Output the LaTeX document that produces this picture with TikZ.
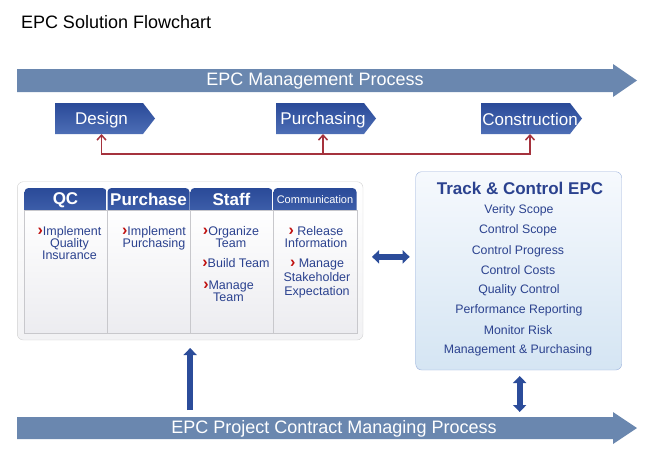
\documentclass[tikz,border=0pt]{standalone}
\usepackage{fontspec}
\setmainfont{Liberation Sans}
\usetikzlibrary{arrows.meta,calc}
\definecolor{barblue}{HTML}{6A87AF}
\definecolor{boxtop}{HTML}{2A4A98}
\definecolor{boxbot}{HTML}{4D6EB6}
\definecolor{tabbot}{HTML}{4061AC}
\definecolor{txtblue}{HTML}{2B428F}
\definecolor{bulred}{HTML}{C0100E}
\definecolor{linkred}{HTML}{A5323D}
\definecolor{arrblue}{HTML}{2B4C9A}
\definecolor{trkborder}{HTML}{9DB2DC}
\definecolor{trktop}{HTML}{F6F9FD}
\definecolor{trkbot}{HTML}{D5E5F3}
\definecolor{panelline}{HTML}{D2D2D2}
\definecolor{panelbot}{HTML}{F2F2F4}
\definecolor{colline}{HTML}{C8C8CC}
\definecolor{colbot}{HTML}{ECECF0}
\newcommand{\bulmark}{{\color{bulred}\fontsize{16}{12}\selectfont\bfseries ›}}
\begin{document}
\begin{tikzpicture}[x=1pt,y=-1pt,
  every node/.style={inner sep=0pt, outer sep=0pt},
  bartext/.style={text=white, font=\fontsize{18}{18}\selectfont},
  stageshape/.style={top color=boxtop, bottom color=boxbot},
  stagetext/.style={text=white, font=\fontsize{17}{17}\selectfont, minimum height=31pt},
  redlink/.style={draw=linkred, line width=1.5pt},
  tab/.style={rounded corners=4pt, top color=boxtop, bottom color=tabbot, minimum width=82pt, minimum height=26pt, anchor=north west},
  tabtext/.style={text=white, font=\bfseries\fontsize{17}{17}\selectfont},
  colbody/.style={draw=colline, top color=white, bottom color=colbot, minimum width=83pt, minimum height=123pt, anchor=north west},
  item/.style={text=txtblue, align=center, font=\fontsize{12.5}{12.3}\selectfont, anchor=north},
  trkitem/.style={text=txtblue, font=\fontsize{12.3}{12}\selectfont},
  bigarrow/.style={draw=arrblue, line width=6pt, {Triangle[width=13pt,length=7pt]}-{Triangle[width=13pt,length=7pt]}},
  uparrow/.style={draw=arrblue, line width=6pt, -{Triangle[width=13pt,length=7pt]}},
]
\useasboundingbox (0,0) rectangle (650,474);

% title
\node[anchor=west, font=\fontsize{18}{18}\selectfont] (title) at (21,22) {EPC Solution Flowchart};

% top process bar
\fill[barblue] (17,69) -- (613,69) -- (613,64) -- (637,80.5) -- (613,97) -- (613,92) -- (17,92) -- cycle;
\node[bartext] (toplabel) at (315,81.5) {EPC Management Process};

% stages
\shade[stageshape] (55,103) -- (143,103) -- (155,118.5) -- (143,134) -- (55,134) -- cycle;
\shade[stageshape] (276,103) -- (364,103) -- (376,118.5) -- (364,134) -- (276,134) -- cycle;
\shade[stageshape] (481,103) -- (570,103) -- (582,118.5) -- (570,134) -- (481,134) -- cycle;
\node[stagetext] (design) at (101.5,120) {Design};
\node[stagetext] (purchasing) at (323,120) {Purchasing};
\node[stagetext] (construction) at (530,119) {Construction};

% red links
\coordinate (redbus) at (0,154);
\draw[redlink, {Straight Barb[length=5pt,width=9pt]}-{Straight Barb[length=5pt,width=9pt]}]
  ([yshift=1.5pt]design.south) -- (design.south |- redbus) -| ([yshift=0.5pt]construction.south);
\draw[redlink, -{Straight Barb[length=5pt,width=9pt]}] (purchasing.south |- redbus) -- ([yshift=1.5pt]purchasing.south);

% left panel
\node[draw=panelline, rounded corners=6pt, top color=white, bottom color=panelbot, minimum width=345.7pt, minimum height=158.3pt] (leftpanel) at (190.15,260.85) {};

\node[tab] (qctab) at (24.5,188) {};
\node[tab] (purtab) at (107.5,188) {};
\node[tab] (stafftab) at (190.5,188) {};
\node[tab, minimum width=83pt] (commtab) at (273.5,188) {};

\node[colbody] (qcbody) at (24,210) {};
\node[colbody] (purbody) at (107,210) {};
\node[colbody] (staffbody) at (190,210) {};
\node[colbody, minimum width=84pt] (commbody) at (273,210) {};

\node[tabtext] (qchead) at (65.5,200.5) {QC};
\node[tabtext] (purhead) at (148.5,199.5) {Purchase};
\node[tabtext] (staffhead) at (231.5,199.5) {Staff};
\node[text=white, font=\fontsize{11}{11}\selectfont] (commhead) at (315,199.5) {Communication};

\node[item] (qc1) at (69.5,226) {\bulmark Implement\\ Quality\\ Insurance};
\node[item] (pur1) at (154,226) {\bulmark Implement\\ Purchasing};
\node[item] (staff1) at (231,226) {\bulmark Organize\\ Team};
\node[item] (staff2) at (236,258.7) {\bulmark Build Team};
\node[item] (staff3) at (228.5,281) {\bulmark Manage\\ Team};
\node[item] (comm1) at (316,226) {\bulmark\ Release\\ Information};
\node[item, font=\fontsize{12.5}{14}\selectfont] (comm2) at (317,259) {\bulmark\ Manage\\ Stakeholder\\ Expectation};

% track box
\node[draw=trkborder, rounded corners=6pt, top color=trktop, bottom color=trkbot, minimum width=206pt, minimum height=198.3pt] (trackbox) at (518.7,270.85) {};
\node[text=txtblue, font=\bfseries\fontsize{17}{17}\selectfont] (trktitle) at (520,188) {Track \& Control EPC};
\node[trkitem] (t1) at (519,210) {Verity Scope};
\node[trkitem] (t2) at (518,230.5) {Control Scope};
\node[trkitem] (t3) at (518,251) {Control Progress};
\node[trkitem] (t4) at (518,270.5) {Control Costs};
\node[trkitem] (t5) at (519,290.5) {Quality Control};
\node[trkitem] (t6) at (519,310.5) {Performance Reporting};
\node[trkitem] (t7) at (518,330) {Monitor Risk};
\node[trkitem] (t8) at (518,350.5) {Management \& Purchasing};

% bottom process bar
\fill[barblue] (17,417) -- (613,417) -- (613,412) -- (637,428) -- (613,444) -- (613,439) -- (17,439) -- cycle;
\node[minimum width=596pt, minimum height=22pt, anchor=north west] (bottombar) at (17,417) {};
\node[bartext] (bottomlabel) at (334,429) {EPC Project Contract Managing Process};

% blue connectors
\draw[bigarrow, shorten <=9pt, shorten >=6pt] ([yshift=4pt]leftpanel.east) -- ([yshift=4pt]leftpanel.east -| trackbox.west);
\draw[uparrow, shorten <=7pt, shorten >=8pt] (leftpanel.south |- bottombar.north) -- (leftpanel.south);
\draw[bigarrow, shorten <=6pt, shorten >=5pt] ([xshift=1pt]trackbox.south) -- ([xshift=1pt]trackbox.south |- bottombar.north);
\end{tikzpicture}
\end{document}
